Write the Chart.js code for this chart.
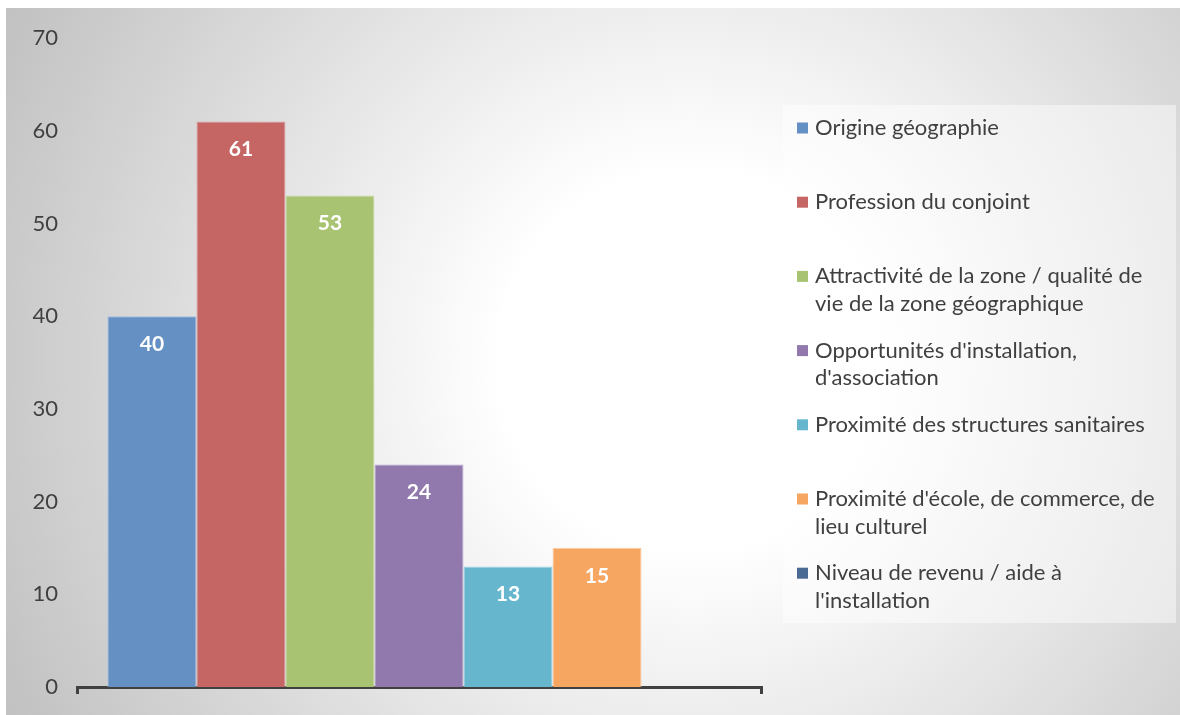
<!DOCTYPE html>
<html>
<head>
<meta charset="utf-8">
<script src="https://cdn.jsdelivr.net/npm/chart.js@4.4.1/dist/chart.umd.min.js"></script>
<style>
html,body{margin:0;padding:0;background:#fff;}
#wrap{width:1180px;height:715px;position:relative;}
</style>
</head>
<body>
<div id="wrap"><canvas id="c" width="1180" height="715"></canvas></div>
<script>
// ---- data ----
const categories = [''];
const seriesNames = [
  'Origine géographie',
  'Profession du conjoint',
  'Attractivité de la zone / qualité de vie de la zone géographique',
  "Opportunités d'installation, d'association",
  'Proximité des structures sanitaires',
  "Proximité d'école, de commerce, de lieu culturel",
  "Niveau de revenu / aide à l'installation"
];
const seriesValues = [40, 61, 53, 24, 13, 15, 0];
const legendLines = [
  ['Origine géographie'],
  ['Profession du conjoint'],
  ['Attractivité de la zone / qualité de', 'vie de la zone géographique'],
  ["Opportunités d'installation,", "d'association"],
  ['Proximité des structures sanitaires'],
  ["Proximité d'école, de commerce, de", 'lieu culturel'],
  ['Niveau de revenu / aide à', "l'installation"]
];
const yTickValues = [0, 10, 20, 30, 40, 50, 60, 70];

// ---- styles ----
const fillColors = ['#6590c4', '#c66664', '#a8c472', '#9179ae', '#66b7ce', '#f7a661', '#4a6a93'];
const edgeColors = ['#a3bee0', '#dc9d9b', '#cadca6', '#b9a8cc', '#a0d4e3', '#fbcaa0', '#4a6a93'];
const FONT = 'Lato, "Open Sans", sans-serif';
const TEXT = '#404040';

const bgPlugin = {
  id: 'bg',
  beforeDraw(chart) {
    const ctx = chart.ctx;
    ctx.save();
    ctx.fillStyle = '#ffffff';
    ctx.fillRect(0, 0, chart.width, chart.height);
    const g = ctx.createRadialGradient(690, 360, 0, 690, 360, 760);
    g.addColorStop(0, '#ffffff');
    g.addColorStop(0.25, '#ffffff');
    g.addColorStop(1, '#c2c2c2');
    ctx.fillStyle = g;
    ctx.fillRect(6, 8, chart.width - 6, chart.height - 8);
    ctx.restore();
  }
};

const valueLabels = {
  id: 'valueLabels',
  afterDatasetsDraw(chart) {
    const ctx = chart.ctx;
    ctx.save();
    ctx.font = 'bold 21px ' + FONT;
    ctx.fillStyle = '#ffffff';
    ctx.textAlign = 'center';
    ctx.textBaseline = 'middle';
    chart.data.datasets.forEach((ds, i) => {
      const meta = chart.getDatasetMeta(i);
      meta.data.forEach((el, j) => {
        const v = ds.data[j];
        if (!v) return;
        ctx.fillText(String(v), el.x, el.y + 28);
      });
    });
    ctx.restore();
  }
};

const legendPlugin = {
  id: 'customLegend',
  afterDraw(chart) {
    const ctx = chart.ctx;
    ctx.save();
    ctx.fillStyle = 'rgba(255,255,255,0.45)';
    ctx.fillRect(783, 105, 393, 518);
    ctx.font = '22px ' + FONT;
    ctx.textBaseline = 'middle';
    ctx.textAlign = 'left';
    const step = 74.2;
    chart.data.datasets.forEach((ds, i) => {
      const y0 = 128 + i * step;
      ctx.fillStyle = ds.backgroundColor;
      ctx.fillRect(797, y0 - 5.5, 11, 11);
      ctx.fillStyle = TEXT;
      legendLines[i].forEach((line, k) => {
        ctx.fillText(line, 815, y0 + k * 27.5);
      });
    });
    ctx.restore();
  }
};

function build() {
  const datasets = seriesNames.map((name, i) => ({
    label: name,
    data: [seriesValues[i]],
    backgroundColor: fillColors[i],
    borderColor: edgeColors[i],
    borderWidth: seriesValues[i] ? 1 : 0,
    borderSkipped: 'start'
  }));

  new Chart(document.getElementById('c'), {
    type: 'bar',
    data: { labels: categories, datasets },
    options: {
      responsive: false,
      animation: false,
      devicePixelRatio: 1,
      datasets: { bar: { categoryPercentage: 0.911, barPercentage: 1 } },
      layout: { padding: { left: 0, top: 38, right: 419, bottom: 18 } },
      plugins: { legend: { display: false }, tooltip: { enabled: false } },
      scales: {
        x: {
          offset: true,
          grid: {
            display: true, drawOnChartArea: false, drawTicks: true,
            tickLength: 7, lineWidth: 3, color: '#404040', offset: true
          },
          border: { display: true, color: '#404040', width: 3 },
          ticks: { display: false },
          afterFit(s) { s.height = 10; s.paddingLeft = 0; s.paddingRight = 0; }
        },
        y: {
          min: 0, max: 70,
          afterBuildTicks(s) { s.ticks = yTickValues.map(v => ({ value: v })); },
          ticks: { color: TEXT, font: { family: FONT, size: 22 }, padding: 19 },
          grid: { display: false, drawTicks: false },
          border: { display: false },
          afterFit(s) { s.width = 77; s.paddingTop = 0; s.paddingBottom = 0; }
        }
      }
    },
    plugins: [bgPlugin, valueLabels, legendPlugin]
  });
}

if (document.fonts && document.fonts.load) {
  Promise.all([document.fonts.load('22px Lato'), document.fonts.load('bold 21px Lato')])
    .then(build, build);
} else { build(); }
</script>
</body>
</html>
